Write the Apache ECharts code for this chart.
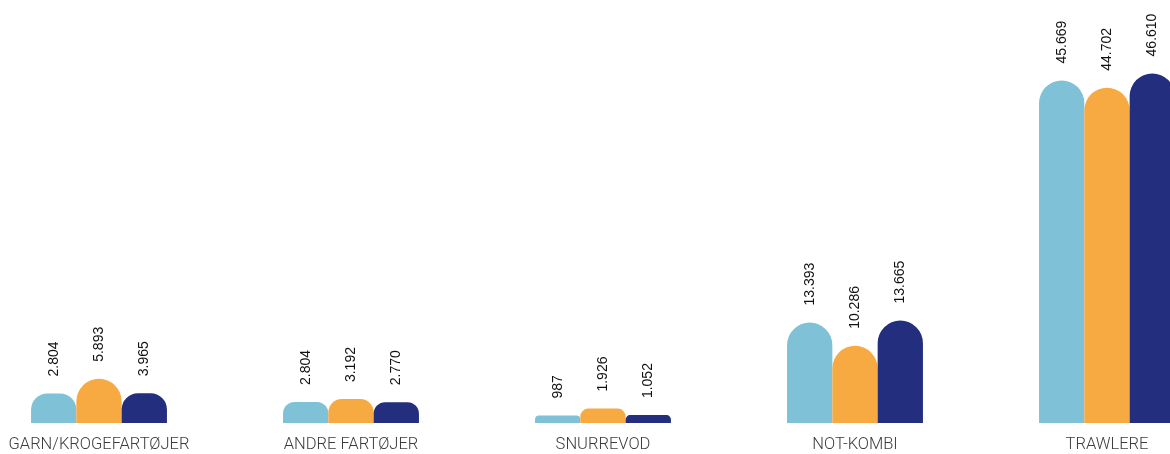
<!DOCTYPE html>
<html><head><meta charset="utf-8">
<script src="https://cdn.jsdelivr.net/npm/echarts@6/dist/echarts.min.js"></script>
<style>html,body{margin:0;padding:0;background:#fff;overflow:hidden;width:1170px;height:454px}#c{position:absolute;left:-27px;top:0;width:1260px;height:454px}</style>
</head><body><div id="c"></div>
<script>
const categories = ['GARN/KROGEFARTØJER', 'ANDRE FARTØJER', 'SNURREVOD', 'NOT-KOMBI', 'TRAWLERE'];
// bar heights as drawn in the reference
const series1 = [3930, 2804, 987, 13393, 45669];
const series2 = [5893, 3192, 1926, 10286, 44702];
const series3 = [3965, 2770, 1052, 13665, 46610];
// value labels as printed in the reference
const labels1 = ['2.804', '2.804', '987', '13.393', '45.669'];
const labels2 = ['5.893', '3.192', '1.926', '10.286', '44.702'];
const labels3 = ['3.965', '2.770', '1.052', '13.665', '46.610'];
const colors = ['#7fc1d7', '#f7aa42', '#232f7e'];

const Y_MAX = 56400;
const PLOT_H = 423;
const BAR_W = 45.3;

const chart = echarts.init(document.getElementById('c'));
function mk(data, labels, i) {
  return {
    type: 'bar', barWidth: BAR_W, barGap: '0%',
    data: data.map(v => {
      const h = v / Y_MAX * PLOT_H;
      const r = Math.min(BAR_W / 2, h * 0.55);
      return { value: v, itemStyle: { borderRadius: [r, r, 0, 0] } };
    }),
    itemStyle: { color: colors[i] },
    label: {
      show: true, position: 'top', rotate: 90, distance: 17,
      align: 'left', verticalAlign: 'middle',
      color: '#111', fontSize: 14, fontFamily: 'Liberation Sans, Arial, sans-serif',
      formatter: p => labels[p.dataIndex]
    }
  };
}
chart.setOption({
  animation: false,
  grid: { left: 0, right: 0, top: 0, bottom: 31, containLabel: false },
  xAxis: {
    type: 'category', data: categories,
    axisLine: { show: false }, axisTick: { show: false },
    axisLabel: { color: '#3c3c3c', fontSize: 16.5, fontWeight: 300, fontFamily: 'Roboto', margin: 13, interval: 0 }
  },
  yAxis: { type: 'value', min: 0, max: Y_MAX, show: false, splitLine: { show: false } },
  series: [mk(series1, labels1, 0), mk(series2, labels2, 1), mk(series3, labels3, 2)]
});
</script></body></html>
